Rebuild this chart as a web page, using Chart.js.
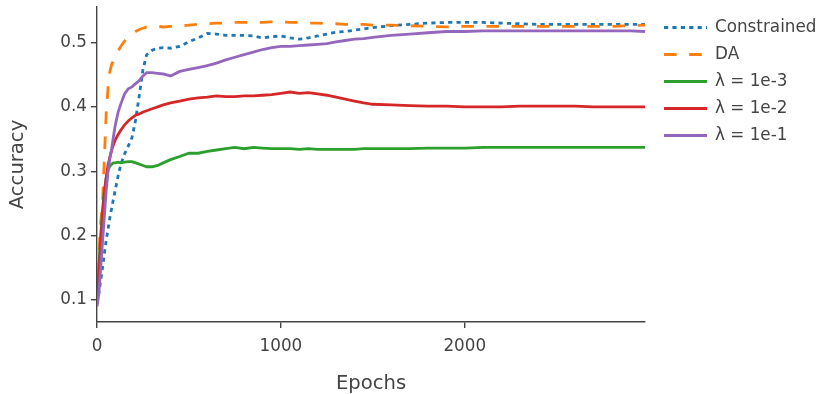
<!DOCTYPE html>
<html>
<head>
<meta charset="utf-8">
<script src="https://cdn.jsdelivr.net/npm/chart.js@4.4.1/dist/chart.umd.min.js"></script>
<style>
  body { margin: 0; background: #fff; }
</style>
</head>
<body>
<canvas id="accChart" width="818" height="394"></canvas>
<script>
// epochs sampled for every run
const epochs = [0, 10, 20, 30, 40, 50, 60, 70, 80, 90, 100, 115, 130, 150, 170, 190, 210, 230, 250, 270,
    300, 330, 360, 400, 450, 500, 550, 600, 650, 700, 750, 800, 850, 900, 950, 1000, 1050, 1100, 1150, 1200,
    1250, 1300, 1350, 1400, 1450, 1500, 1600, 1700, 1800, 1900, 2000, 2100, 2200, 2300, 2400, 2500, 2600,
    2700, 2800, 2900, 2980];

const constrained = [0.095, 0.11, 0.13, 0.15, 0.172, 0.193, 0.21, 0.228, 0.243, 0.258, 0.272, 0.293, 0.311, 0.327, 0.339, 0.352, 0.38, 0.418, 0.458, 0.481,
    0.488, 0.491, 0.492, 0.491, 0.494, 0.501, 0.507, 0.514, 0.513, 0.511, 0.511, 0.511, 0.510, 0.507, 0.509, 0.510, 0.507, 0.505, 0.507, 0.510,
    0.513, 0.516, 0.517, 0.519, 0.521, 0.523, 0.526, 0.528, 0.530, 0.531, 0.531, 0.531, 0.530, 0.529, 0.528, 0.528, 0.528,
    0.528, 0.528, 0.528, 0.528];

const da = [0.10, 0.17, 0.22, 0.25, 0.32, 0.39, 0.43, 0.455, 0.466, 0.472, 0.479, 0.487, 0.494, 0.502, 0.508, 0.513, 0.517, 0.52, 0.522, 0.524,
    0.525, 0.525, 0.524, 0.525, 0.525, 0.527, 0.528, 0.529, 0.530, 0.530, 0.531, 0.531, 0.531, 0.531, 0.532, 0.532, 0.531, 0.531, 0.530, 0.530,
    0.529, 0.529, 0.528, 0.528, 0.528, 0.527, 0.527, 0.526, 0.525, 0.524, 0.525, 0.525, 0.525, 0.525, 0.525, 0.525, 0.525,
    0.525, 0.525, 0.526, 0.527];

const lam1e3 = [0.10, 0.15, 0.2, 0.24, 0.27, 0.29, 0.302, 0.308, 0.311, 0.313, 0.313, 0.314, 0.313, 0.314, 0.315, 0.315, 0.313, 0.311, 0.309, 0.307,
    0.307, 0.309, 0.313, 0.318, 0.323, 0.328, 0.328, 0.331, 0.333, 0.335, 0.337, 0.335, 0.337, 0.336, 0.335, 0.335, 0.335, 0.334, 0.335, 0.334,
    0.334, 0.334, 0.334, 0.334, 0.335, 0.335, 0.335, 0.335, 0.336, 0.336, 0.336, 0.337, 0.337, 0.337, 0.337, 0.337, 0.337,
    0.337, 0.337, 0.337, 0.337];

const lam1e2 = [0.10, 0.14, 0.19, 0.23, 0.265, 0.29, 0.31, 0.322, 0.333, 0.342, 0.349, 0.357, 0.364, 0.372, 0.378, 0.383, 0.387, 0.389, 0.392, 0.394,
    0.397, 0.400, 0.403, 0.406, 0.409, 0.412, 0.414, 0.415, 0.417, 0.416, 0.416, 0.417, 0.417, 0.418, 0.419, 0.421, 0.423, 0.421, 0.422, 0.420,
    0.418, 0.415, 0.412, 0.409, 0.406, 0.404, 0.403, 0.402, 0.401, 0.401, 0.400, 0.400, 0.400, 0.401, 0.401, 0.401, 0.401,
    0.400, 0.400, 0.400, 0.400];

const lam1e1 = [0.09, 0.11, 0.15, 0.19, 0.23, 0.27, 0.30, 0.32, 0.335, 0.355, 0.372, 0.392, 0.405, 0.42, 0.428, 0.431, 0.436, 0.441, 0.448, 0.453,
    0.453, 0.452, 0.451, 0.448, 0.455, 0.458, 0.461, 0.464, 0.468, 0.473, 0.477, 0.481, 0.485, 0.489, 0.492, 0.494, 0.494, 0.495, 0.496, 0.497,
    0.498, 0.501, 0.503, 0.505, 0.506, 0.508, 0.511, 0.513, 0.515, 0.517, 0.517, 0.518, 0.518, 0.518, 0.518, 0.518, 0.518,
    0.518, 0.518, 0.518, 0.517];

const seriesNames = ['Constrained', 'DA', 'λ = 1e-3', 'λ = 1e-2', 'λ = 1e-1'];
const seriesColors = ['#1f77b4', '#ff7f0e', '#2ca02c', '#d62728', '#9467bd'];
const seriesDash = [[4.2, 4.2], [12.6, 12.6], [], [], []];
const seriesData = [constrained, da, lam1e3, lam1e2, lam1e1];

const xTicks = [0, 1000, 2000];
const yTicks = [0.1, 0.2, 0.3, 0.4, 0.5];

const textColor = '#444';
const fontFamily = "'DejaVu Sans', Verdana, sans-serif";

// legend drawn on the right, line sample + label
const sideLegend = {
    id: 'sideLegend',
    afterDraw(chart) {
        const ctx = chart.ctx;
        ctx.save();
        chart.data.datasets.forEach((ds, i) => {
            const y = 27.5 + i * 27;
            ctx.beginPath();
            ctx.strokeStyle = ds.borderColor;
            ctx.lineWidth = ds.borderWidth;
            ctx.setLineDash(ds.borderDash);
            ctx.moveTo(664, y);
            ctx.lineTo(707, y);
            ctx.stroke();
            ctx.setLineDash([]);
            ctx.fillStyle = textColor;
            ctx.font = '16.8px ' + fontFamily;
            ctx.textBaseline = 'middle';
            ctx.textAlign = 'left';
            ctx.fillText(ds.label, 715, y);
        });
        ctx.restore();
    }
};

const accChart = new Chart(document.getElementById('accChart'), {
    type: 'line',
    data: {
        datasets: seriesNames.map((name, i) => ({
            label: name,
            data: epochs.map((e, j) => ({x: e, y: seriesData[i][j]})),
            borderColor: seriesColors[i],
            backgroundColor: seriesColors[i],
            borderWidth: 2.8,
            borderDash: seriesDash[i],
            pointRadius: 0,
            tension: 0,
            fill: false,
            order: seriesNames.length - i
        }))
    },
    options: {
        responsive: false,
        animation: false,
        devicePixelRatio: 1,
        layout: {padding: {left: 0, top: 7, right: 173, bottom: 0}},
        plugins: {
            legend: {display: false},
            tooltip: {enabled: false}
        },
        scales: {
            x: {
                type: 'linear',
                min: 0,
                max: 2980,
                afterFit: s => { s.height = 72; s.paddingLeft = 0; s.paddingRight = 0; },
                afterBuildTicks: s => { s.ticks = xTicks.map(v => ({value: v})); },
                grid: {drawOnChartArea: false, drawTicks: true, tickLength: 6, color: textColor, lineWidth: 1.4},
                border: {display: true, color: textColor, width: 1.4},
                ticks: {
                    color: textColor,
                    padding: 9,
                    maxRotation: 0,
                    font: {family: fontFamily, size: 16.8},
                    callback: v => String(v)
                },
                title: {
                    display: true,
                    text: 'Epochs',
                    color: textColor,
                    font: {family: fontFamily, size: 19.6, lineHeight: 1},
                    padding: {top: 0, bottom: 0}
                }
            },
            y: {
                type: 'linear',
                min: 0.066,
                max: 0.555,
                afterFit: s => { s.width = 97; s.paddingTop = 0; s.paddingBottom = 0; },
                afterBuildTicks: s => { s.ticks = yTicks.map(v => ({value: v})); },
                grid: {drawOnChartArea: false, drawTicks: true, tickLength: 6, color: textColor, lineWidth: 1.4},
                border: {display: true, color: textColor, width: 1.4},
                ticks: {
                    color: textColor,
                    padding: 4,
                    font: {family: fontFamily, size: 16.8},
                    callback: v => v.toFixed(1)
                },
                title: {
                    display: true,
                    text: 'Accuracy',
                    color: textColor,
                    font: {family: fontFamily, size: 19.6},
                    padding: {top: 6, bottom: 0}
                }
            }
        }
    },
    plugins: [sideLegend]
});
</script>
</body>
</html>
